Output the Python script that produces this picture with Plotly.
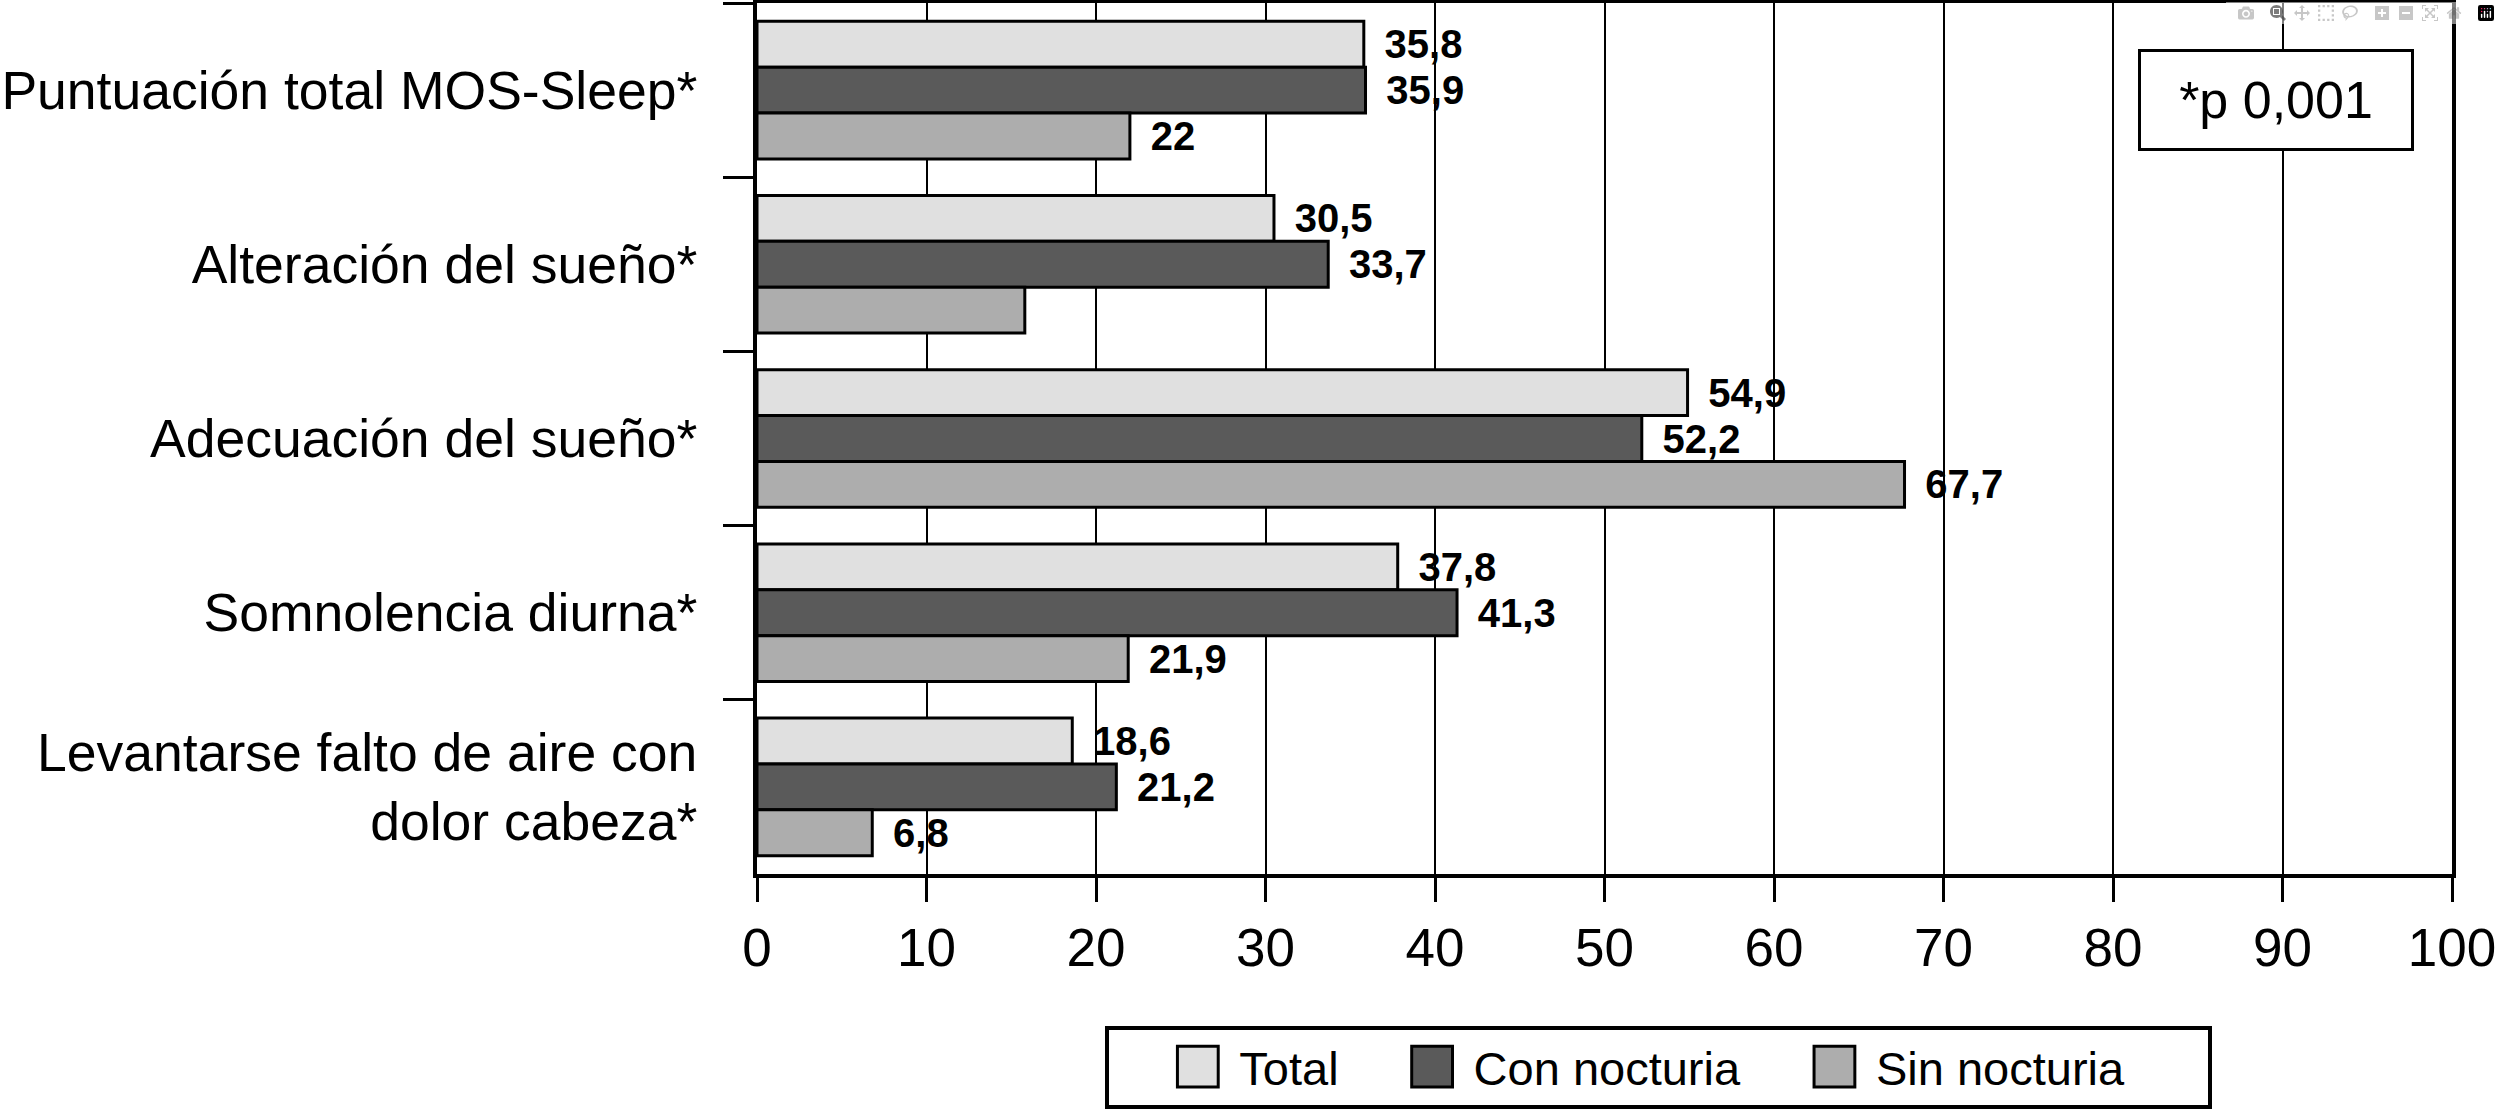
import plotly.graph_objects as go

categories = [
    "Puntuación total MOS-Sleep*",
    "Alteración del sueño*",
    "Adecuación del sueño*",
    "Somnolencia diurna*",
    "Levantarse falto de aire con<br>dolor cabeza*",
]
series_names = ["Total", "Con nocturia", "Sin nocturia"]
total_vals = [35.8, 30.5, 54.9, 37.8, 18.6]
con_vals = [35.9, 33.7, 52.2, 41.3, 21.2]
sin_vals = [22.0, 15.8, 67.7, 21.9, 6.8]
# labels not printed in the original figure: (series, category index)
hidden_labels = {("Sin nocturia", 1)}
x_ticks = [0, 10, 20, 30, 40, 50, 60, 70, 80, 90, 100]
note_text = "*p 0,001"

colors = {"Total": "#e0e0e0", "Con nocturia": "#5a5a5a", "Sin nocturia": "#adadad"}
values = {"Total": total_vals, "Con nocturia": con_vals, "Sin nocturia": sin_vals}

FONT = "Liberation Sans, Arial, Helvetica, sans-serif"


def fmt(v):
    return ("%g" % v).replace(".", ",")


fig = go.Figure()
for name in series_names:
    vals = values[name]
    texts = []
    for i, v in enumerate(vals):
        texts.append("" if (name, i) in hidden_labels else "\u00a0\u2006" + fmt(v))
    legend_name = name + ("\u00a0" * 6 if name == series_names[-1] else "")
    fig.add_trace(go.Bar(
        name=legend_name,
        y=categories,
        x=vals,
        orientation="h",
        marker=dict(color=colors[name], line=dict(color="black", width=3)),
        text=texts,
        textposition="outside",
        constraintext="none",
        cliponaxis=False,
        textfont=dict(family=FONT, size=40, color="black", weight="bold"),
        hoverinfo="skip",
    ))

fig.update_layout(
    width=2500,
    height=1113,
    margin=dict(l=757, r=48, t=3, b=239, autoexpand=False),
    paper_bgcolor="white",
    plot_bgcolor="white",
    barmode="group",
    bargap=0.21,
    bargroupgap=0.0,
    separators=",.",
    font=dict(family=FONT, color="black"),
    xaxis=dict(
        range=[0, 100],
        tickvals=x_ticks,
        ticks="outside",
        ticklen=24,
        tickwidth=3,
        tickcolor="black",
        tickfont=dict(family=FONT, size=53, color="black"),
        ticklabeloverflow="allow",
        automargin=False,
        showgrid=True,
        gridcolor="black",
        gridwidth=1.5,
        showline=True,
        linecolor="black",
        linewidth=4,
        mirror=True,
        zeroline=False,
    ),
    yaxis=dict(
        type="category",
        categoryorder="array",
        categoryarray=categories,
        autorange="reversed",
        tickson="boundaries",
        ticks="outside",
        ticklen=30,
        tickwidth=3,
        tickcolor="black",
        ticklabelstandoff=45,
        tickfont=dict(family=FONT, size=53.5, color="black"),
        automargin=False,
        showgrid=False,
        showline=True,
        linecolor="black",
        linewidth=4,
        mirror=True,
        zeroline=False,
    ),
    legend=dict(
        orientation="h",
        x=0.2055,
        xanchor="left",
        y=-0.2216,
        yanchor="middle",
        bordercolor="black",
        borderwidth=4,
        bgcolor="white",
        itemwidth=120,
        font=dict(family=FONT, size=47, color="black"),
        traceorder="normal",
    ),
    annotations=[dict(
        text=note_text,
        xref="paper", yref="paper",
        x=0.8962, y=0.8892,
        xanchor="center", yanchor="middle",
        showarrow=False,
        width=232,
        borderpad=19,
        borderwidth=3,
        bordercolor="black",
        bgcolor="white",
        font=dict(family=FONT, size=52, color="black"),
    )],
)

post = """
document.body.style.margin = '0';
document.querySelectorAll('g.legendpoints path').forEach(function (p) {
  var t = p.getAttribute('transform') || '';
  p.setAttribute('transform', t + ' translate(23.5,0) scale(3.4)');
  p.style.vectorEffect = 'non-scaling-stroke';
  p.style.strokeWidth = '3px';
});
"""
fig.write_html("out.html", post_script=post)
